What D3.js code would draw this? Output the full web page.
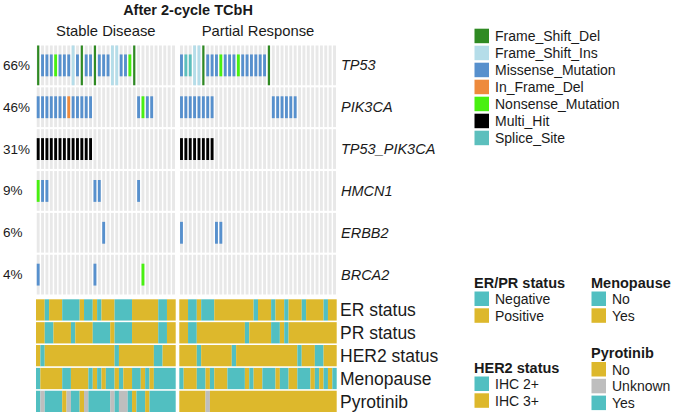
<!DOCTYPE html>
<html>
<head>
<meta charset="utf-8">
<script src="https://cdn.jsdelivr.net/npm/d3@7"></script>
<style>
  body { margin: 0; background: #fff; }
  text { font-family: Arial, "Liberation Sans", sans-serif; fill: #1a1a1a; }
</style>
</head>
<body>
<svg></svg>
<script>
const size = {w: 675, h: 418};
const svg = d3.select('svg').attr('width', size.w).attr('height', size.h);

// groups (columns per group)
const groups = ['Stable Disease', 'Partial Response'];
const groupSizes = [32, 36];

// genes, shown percentages
const genes = ['TP53', 'PIK3CA', 'TP53_PIK3CA', 'HMCN1', 'ERBB2', 'BRCA2'];
const pctLabels = ['66%', '46%', '31%', '9%', '6%', '4%'];

// mutation codes per sample, one string per gene per group
// D Frame_Shift_Del, I Frame_Shift_Ins, M Missense, F In_Frame_Del,
// N Nonsense, H Multi_Hit, S Splice_Site, . none
const mutSD = [
  'DMMMNMMMIMDMMDMMMIIMMND.........',
  'MMMMMMMFMMMMM..........MNMM.....',
  'HHHHHHHHHHHHH...................',
  'NMM..........MM........M........',
  '...............M................',
  'M............M..........N.......'
];
const mutPR = [
  'MSSIIDMMMNMMMNMMMMMMD...............',
  'MMMMMMMM.............MMMMMM.........',
  'HHHHHHHH............................',
  '....................................',
  'M.......MM..........................',
  '....................................'
];
const mutTypes = ['Frame_Shift_Del', 'Frame_Shift_Ins', 'Missense_Mutation', 'In_Frame_Del',
  'Nonsense_Mutation', 'Multi_Hit', 'Splice_Site'];
const mutCodes = ['D', 'I', 'M', 'F', 'N', 'H', 'S'];
const mutColors = ['#2f8a23', '#b5dde9', '#5790cd', '#ee8a3c', '#48f010', '#000000', '#5cbfbd'];

// clinical annotations: Y = yellow level, T = teal level, G = grey (unknown)
const annoNames = ['ER status', 'PR status', 'HER2 status', 'Menopause', 'Pyrotinib'];
const annoSD = [
  'YYTYYYTTTTYTTYTYYYTTTTYYYYYYTTYY',
  'YYTTYYYYTYYYYTTTTYTTTTYYYYYYTTYY',
  'YTYYYYYYYYYYYYYYYYTYYYYYYYYTTYYY',
  'TYYYYYTTYYYYTYTYTTYTYYTTYTYTTTTT',
  'TGTTTTYGTTYGTTTTTGTGGTYTTYTTTTTT'
];
const annoPR = [
  'YYTTYTTTYYYYYYYYYTYYYTYYTYYYTYYYYTYY',
  'YYTTYYYYYYYYYYYTYYYYYTTYTYYYYYYYYYYY',
  'YYYYTYYYYYYYTYYYYYYYYYYYYYYTYYYTTYYY',
  'TYYYTTYTYYYTTTTYTYYTTTYTTYYTTTYTYTYT',
  'YYYYYYGYYYYYYYYYYYYYYYYYYYYYYYYYYYYY'
];
const annoColor = {Y: '#ddb82c', T: '#51bfc1', G: '#bebebe'};

// legends for annotations
const legERPR = ['Negative', 'Positive'];
const legHER2 = ['IHC 2+', 'IHC 3+'];
const legMeno = ['No', 'Yes'];
const legPyro = ['No', 'Unknown', 'Yes'];

// ---------- scales ----------
const panelX = [
  d3.scaleBand().domain(d3.range(groupSizes[0])).range([36, 175.7]),
  d3.scaleBand().domain(d3.range(groupSizes[1])).range([179.3, 336.7])
];
const geneY = d3.scaleBand().domain(genes).range([45.5, 294.5]).paddingInner(0.05);
const annoY = d3.scaleBand().domain(annoNames).range([299.3, 412]).paddingInner(0.07);

const mutData = [mutSD, mutPR];
const annoData = [annoSD, annoPR];

// title & group labels
svg.append('text').attr('x', 188).attr('y', 10).attr('text-anchor', 'middle')
  .attr('dominant-baseline', 'central').style('font-weight', 'bold').style('font-size', '14.5px')
  .text('After 2-cycle TCbH');

groups.forEach((g, p) => {
  const r = panelX[p].range();
  svg.append('text').attr('x', (r[0] + r[1]) / 2).attr('y', 31).attr('text-anchor', 'middle')
    .attr('dominant-baseline', 'central').style('font-size', '14.8px').text(g);
});

// ---------- oncoprint ----------
const onco = svg.append('g').classed('onco', true);
[0, 1].forEach(p => {
  const x = panelX[p];
  const bw = x.bandwidth();
  const cw = bw * 0.66;
  genes.forEach((gene, gi) => {
    const y0 = geneY(gene), h = geneY.bandwidth();
    const row = mutData[p][gi];
    d3.range(groupSizes[p]).forEach(c => {
      const cx = x(c) + (bw - cw) / 2;
      onco.append('rect').attr('x', cx).attr('y', y0).attr('width', cw).attr('height', h)
        .attr('fill', '#e8e8e8');
      const code = row[c];
      if (code === '.') return;
      const col = mutColors[mutCodes.indexOf(code)];
      if (code === 'D' || code === 'I') {
        // full height
        const w = code === 'D' ? cw * 0.75 : cw;
        onco.append('rect').attr('x', x(c) + (bw - w) / 2).attr('y', y0)
          .attr('width', w).attr('height', h).attr('fill', col);
      } else {
        const hh = h * 0.55;
        onco.append('rect').attr('x', cx).attr('y', y0 + (h - hh) / 2)
          .attr('width', cw).attr('height', hh).attr('fill', col);
      }
    });
  });
});

genes.forEach((gene, gi) => {
  const cy = geneY(gene) + geneY.bandwidth() / 2;
  svg.append('text').attr('x', 3).attr('y', cy).attr('dominant-baseline', 'central')
    .style('font-size', '13.5px').text(pctLabels[gi]);
  svg.append('text').attr('x', 341).attr('y', cy).attr('dominant-baseline', 'central')
    .style('font-size', '14.5px').style('font-style', 'italic').text(gene);
});

// ---------- annotations (runs of equal value drawn as one block) ----------
const anno = svg.append('g').classed('anno', true);
[0, 1].forEach(p => {
  const x = panelX[p];
  annoNames.forEach((a, ai) => {
    const row = annoData[p][ai];
    let start = 0;
    for (let c = 1; c <= row.length; c++) {
      if (c === row.length || row[c] !== row[start]) {
        const x0 = x(start), x1 = x(c - 1) + x.bandwidth();
        anno.append('rect').attr('x', x0).attr('y', annoY(a))
          .attr('width', x1 - x0).attr('height', annoY.bandwidth())
          .attr('fill', annoColor[row[start]]);
        start = c;
      }
    }
  });
});
annoNames.forEach(a => {
  svg.append('text').attr('x', 340).attr('y', annoY(a) + annoY.bandwidth() / 2 + 0.5)
    .attr('dominant-baseline', 'central').style('font-size', '17.5px').text(a);
});

// ---------- legends ----------
function legend(x, y, title, labels, colors, step) {
  const g = svg.append('g').attr('transform', `translate(${x},${y})`);
  let top = 0;
  if (title) {
    g.append('text').attr('x', 0).attr('y', 0).attr('dominant-baseline', 'central')
      .style('font-weight', 'bold').style('font-size', '14.5px').text(title);
    top = 16;
  }
  labels.forEach((l, i) => {
    const cy = top + i * step;
    g.append('rect').attr('x', 0.5).attr('y', cy - 7).attr('width', 14.5).attr('height', 14.5)
      .attr('fill', colors[i]);
    g.append('text').attr('x', 21).attr('y', cy + 0.5).attr('dominant-baseline', 'central')
      .style('font-size', '14px').text(l);
  });
}
legend(474, 35.7, null, mutTypes, mutColors, 17);
legend(474, 282.5, 'ER/PR status', legERPR, [annoColor.T, annoColor.Y], 16.8);
legend(474, 367.5, 'HER2 status', legHER2, [annoColor.T, annoColor.Y], 16.8);
legend(591, 282.5, 'Menopause', legMeno, [annoColor.T, annoColor.Y], 16.8);
legend(591, 353, 'Pyrotinib', legPyro, [annoColor.Y, annoColor.G, annoColor.T], 16.8);
</script>
</body>
</html>
